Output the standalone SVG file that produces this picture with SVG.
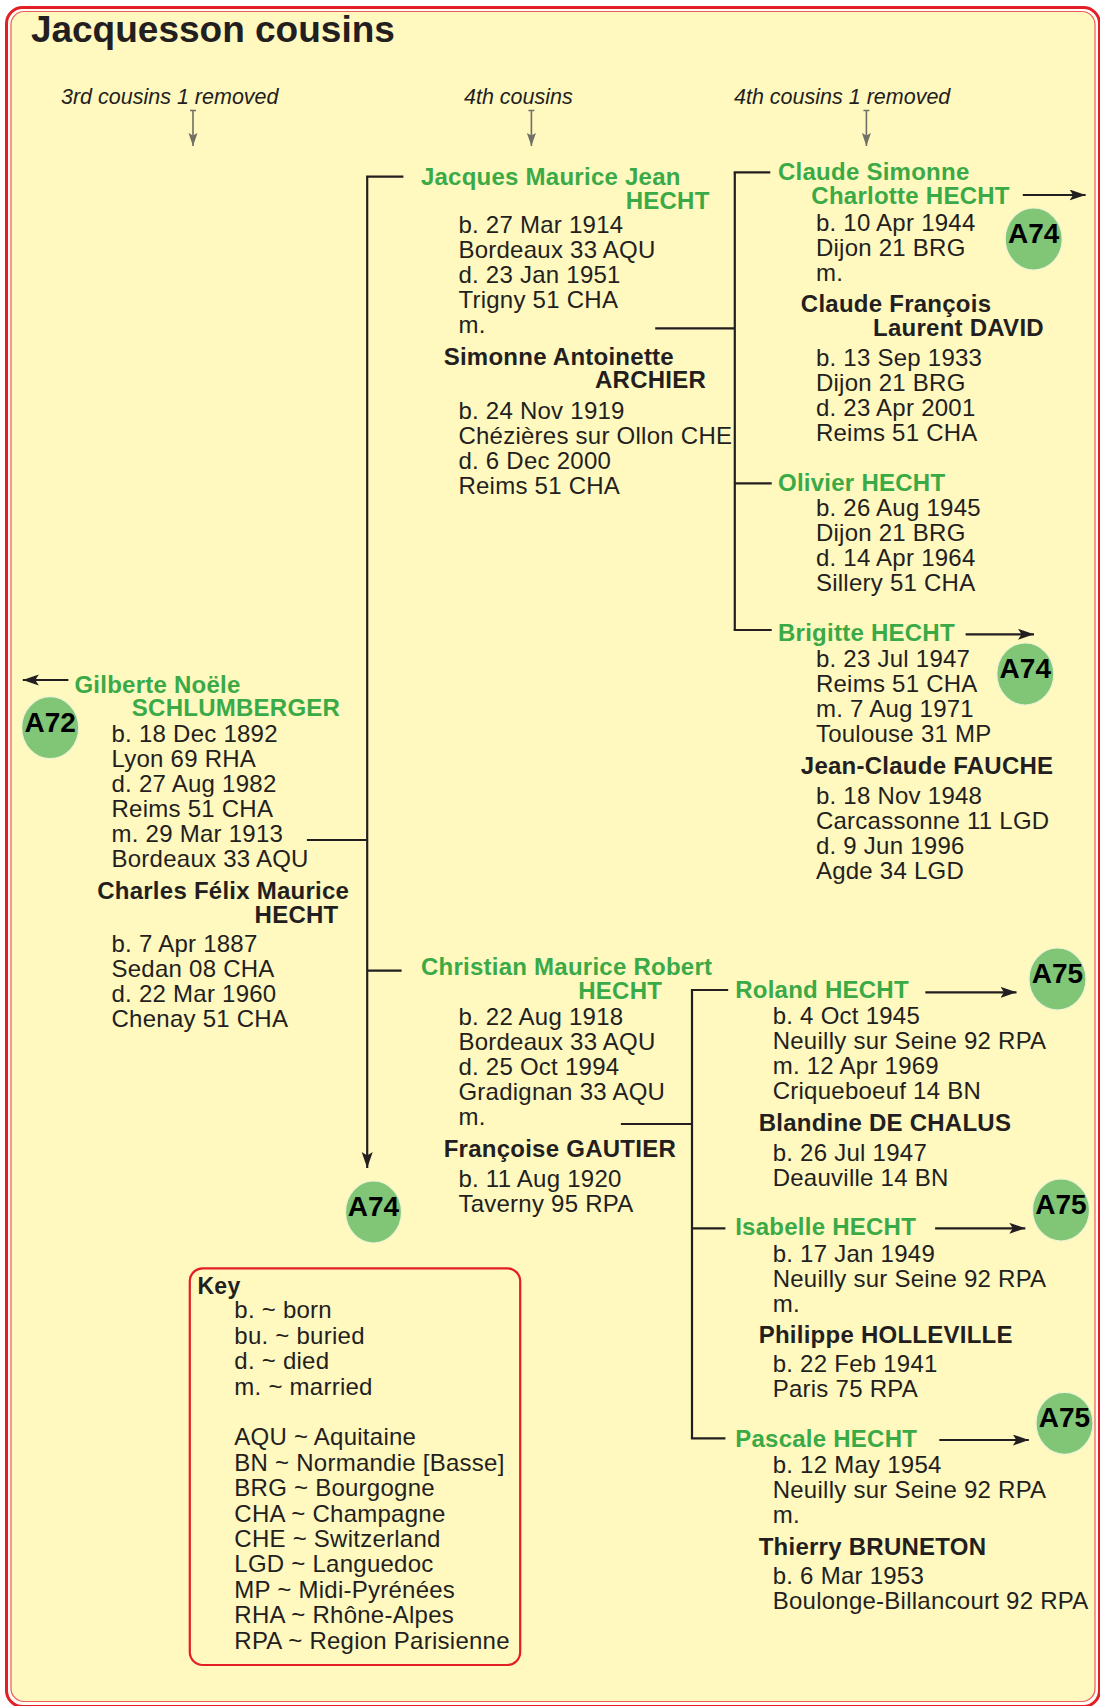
<svg xmlns="http://www.w3.org/2000/svg" width="1100" height="1706" viewBox="0 0 1100 1706">
<defs>
<style>
text{font-family:"Liberation Sans",Arial,Helvetica,sans-serif;font-size:24px;fill:#231f20;letter-spacing:0.25px}
.g{font-weight:bold;fill:#3aaa47}
.s{font-weight:bold}
.e{text-anchor:end}
.h{font-style:italic;font-size:21.5px;letter-spacing:0}
.c{font-weight:bold;font-size:28px;fill:#000;text-anchor:middle;letter-spacing:0}
.ln{stroke:#231f20;stroke-width:2.2;fill:none}
.hl{stroke:#707066;stroke-width:1.6;fill:none}
.badge{fill:#80c676;stroke:#eef3d2;stroke-width:1.2}
</style>
<marker id="ah" markerUnits="userSpaceOnUse" markerWidth="18" markerHeight="12" refX="16" refY="5.5" orient="auto">
<path d="M0,0 L16,5.5 L0,11 L3.5,5.5 Z" fill="#231f20"/>
</marker>
<marker id="gh" markerUnits="userSpaceOnUse" markerWidth="14" markerHeight="10" refX="13" refY="4.5" orient="auto">
<path d="M0,0 L13,4.5 L0,9 L2.5,4.5 Z" fill="#707066"/>
</marker>
</defs>

<g id="frame">
<rect x="6.5" y="7.5" width="1093" height="1699" rx="16" fill="#fffdf4" stroke="#e31e26" stroke-width="3"/>
<rect x="11" y="11.5" width="1084" height="1690" rx="13" fill="#fff8bf" stroke="#ec5a5e" stroke-width="1.2"/>
</g>

<g id="title">
<text x="30.9" y="41.7" class="s" style="font-size:37px;letter-spacing:0">Jacquesson cousins</text>
</g>

<g id="headers">
<text x="61" y="104" class="h">3rd cousins 1 removed</text>
<text x="464" y="104" class="h">4th cousins</text>
<text x="734" y="104" class="h">4th cousins 1 removed</text>
<path class="hl" d="M190 110.5 H196 M193 110.5 V146" marker-end="url(#gh)"/>
<path class="hl" d="M528.4 110.5 H534.4 M531.4 110.5 V146" marker-end="url(#gh)"/>
<path class="hl" d="M863.4 110.5 H869.4 M866.4 110.5 V146" marker-end="url(#gh)"/>
</g>

<g id="connectors">
<line class="ln" x1="367.2" y1="176.7" x2="367.2" y2="1168" marker-end="url(#ah)"/>
<line class="ln" x1="366.1" y1="176.7" x2="403.4" y2="176.7"/>
<line class="ln" x1="367.2" y1="970.7" x2="401.6" y2="970.7"/>
<line class="ln" x1="306.9" y1="840" x2="367.2" y2="840"/>
<line class="ln" x1="734.8" y1="172.3" x2="734.8" y2="630"/>
<line class="ln" x1="733.7" y1="172.3" x2="770.3" y2="172.3"/>
<line class="ln" x1="734.8" y1="483.3" x2="771.7" y2="483.3"/>
<line class="ln" x1="733.7" y1="630" x2="771.7" y2="630"/>
<line class="ln" x1="655.2" y1="328.3" x2="734.8" y2="328.3"/>
<line class="ln" x1="692" y1="990" x2="692" y2="1438.3"/>
<line class="ln" x1="690.9" y1="990" x2="728.2" y2="990"/>
<line class="ln" x1="692" y1="1228.3" x2="725.4" y2="1228.3"/>
<line class="ln" x1="690.9" y1="1438.3" x2="725.4" y2="1438.3"/>
<line class="ln" x1="620.9" y1="1124" x2="692" y2="1124"/>
<line class="ln" x1="68.4" y1="680" x2="22.8" y2="680" marker-end="url(#ah)"/>
<line class="ln" x1="1022.8" y1="195" x2="1085.6" y2="195" marker-end="url(#ah)"/>
<line class="ln" x1="965.6" y1="634.3" x2="1034" y2="634.3" marker-end="url(#ah)"/>
<line class="ln" x1="925.3" y1="992.3" x2="1016.5" y2="992.3" marker-end="url(#ah)"/>
<line class="ln" x1="935.1" y1="1228.3" x2="1025.3" y2="1228.3" marker-end="url(#ah)"/>
<line class="ln" x1="939.3" y1="1440" x2="1028.8" y2="1440" marker-end="url(#ah)"/>
</g>

<g id="gilberte">
<text x="74.4" y="692.7" class="g">Gilberte Noële</text>
<text x="340.2" y="716" class="g e">SCHLUMBERGER</text>
<text x="111.5" y="741.7">b. 18 Dec 1892</text>
<text x="111.5" y="766.7">Lyon 69 RHA</text>
<text x="111.5" y="791.7">d. 27 Aug 1982</text>
<text x="111.5" y="816.7">Reims 51 CHA</text>
<text x="111.5" y="841.7">m. 29 Mar 1913</text>
<text x="111.5" y="866.7">Bordeaux 33 AQU</text>
<text x="97.2" y="899" class="s">Charles Félix Maurice</text>
<text x="338.5" y="923.3" class="s e">HECHT</text>
<text x="111.5" y="951.7">b. 7 Apr 1887</text>
<text x="111.5" y="976.7">Sedan 08 CHA</text>
<text x="111.5" y="1001.7">d. 22 Mar 1960</text>
<text x="111.5" y="1026.7">Chenay 51 CHA</text>
</g>

<g id="badge-a72">
<ellipse class="badge" cx="50.2" cy="727.7" rx="28.5" ry="31"/>
<text class="c" x="50.2" y="731.7">A72</text>
</g>

<g id="jacques">
<text x="420.9" y="185" class="g">Jacques Maurice Jean</text>
<text x="709.6" y="209" class="g e">HECHT</text>
<text x="458.4" y="233.3">b. 27 Mar 1914</text>
<text x="458.4" y="258.3">Bordeaux 33 AQU</text>
<text x="458.4" y="283.3">d. 23 Jan 1951</text>
<text x="458.4" y="308.3">Trigny 51 CHA</text>
<text x="458.4" y="333.3">m.</text>
<text x="443.7" y="365" class="s">Simonne Antoinette</text>
<text x="706.1" y="388.3" class="s e">ARCHIER</text>
<text x="458.4" y="419.3">b. 24 Nov 1919</text>
<text x="458.4" y="444.3">Chézières sur Ollon CHE</text>
<text x="458.4" y="469.3">d. 6 Dec 2000</text>
<text x="458.4" y="494.3">Reims 51 CHA</text>
</g>

<g id="christian">
<text x="420.9" y="975" class="g">Christian Maurice Robert</text>
<text x="662.2" y="999" class="g e">HECHT</text>
<text x="458.4" y="1025">b. 22 Aug 1918</text>
<text x="458.4" y="1050">Bordeaux 33 AQU</text>
<text x="458.4" y="1075">d. 25 Oct 1994</text>
<text x="458.4" y="1100">Gradignan 33 AQU</text>
<text x="458.4" y="1125">m.</text>
<text x="443.7" y="1157.3" class="s">Françoise GAUTIER</text>
<text x="458.4" y="1187">b. 11 Aug 1920</text>
<text x="458.4" y="1212">Taverny 95 RPA</text>
</g>

<g id="badge-a74-main">
<ellipse class="badge" cx="373.5" cy="1212" rx="28" ry="31"/>
<text class="c" x="373.5" y="1216">A74</text>
</g>

<g id="claude">
<text x="778" y="179.5" class="g">Claude Simonne</text>
<text x="811.3" y="204" class="g">Charlotte HECHT</text>
<text x="815.9" y="230.7">b. 10 Apr 1944</text>
<text x="815.9" y="255.7">Dijon 21 BRG</text>
<text x="815.9" y="280.7">m.</text>
<text x="800.8" y="312.3" class="s">Claude François</text>
<text x="1043.9" y="335.7" class="s e">Laurent DAVID</text>
<text x="815.9" y="365.7">b. 13 Sep 1933</text>
<text x="815.9" y="390.7">Dijon 21 BRG</text>
<text x="815.9" y="415.7">d. 23 Apr 2001</text>
<text x="815.9" y="440.7">Reims 51 CHA</text>
</g>

<g id="badge-a74-claude">
<ellipse class="badge" cx="1033.7" cy="239" rx="28.5" ry="31"/>
<text class="c" x="1033.7" y="243.3">A74</text>
</g>

<g id="olivier">
<text x="778" y="490.7" class="g">Olivier HECHT</text>
<text x="815.9" y="516">b. 26 Aug 1945</text>
<text x="815.9" y="541">Dijon 21 BRG</text>
<text x="815.9" y="566">d. 14 Apr 1964</text>
<text x="815.9" y="591">Sillery 51 CHA</text>
</g>

<g id="brigitte">
<text x="778" y="640.7" class="g">Brigitte HECHT</text>
<text x="815.9" y="667.3">b. 23 Jul 1947</text>
<text x="815.9" y="692.3">Reims 51 CHA</text>
<text x="815.9" y="717.3">m. 7 Aug 1971</text>
<text x="815.9" y="742.3">Toulouse 31 MP</text>
<text x="800.8" y="774" class="s">Jean-Claude FAUCHE</text>
<text x="815.9" y="804.3">b. 18 Nov 1948</text>
<text x="815.9" y="829.3">Carcassonne 11 LGD</text>
<text x="815.9" y="854.3">d. 9 Jun 1996</text>
<text x="815.9" y="879.3">Agde 34 LGD</text>
</g>

<g id="badge-a74-brigitte">
<ellipse class="badge" cx="1025.3" cy="674" rx="28.5" ry="31"/>
<text class="c" x="1025.3" y="678">A74</text>
</g>

<g id="roland">
<text x="735.2" y="998.3" class="g">Roland HECHT</text>
<text x="772.7" y="1024.3">b. 4 Oct 1945</text>
<text x="772.7" y="1049.3">Neuilly sur Seine 92 RPA</text>
<text x="772.7" y="1074.3">m. 12 Apr 1969</text>
<text x="772.7" y="1099.3">Criqueboeuf 14 BN</text>
<text x="758.7" y="1131" class="s">Blandine DE CHALUS</text>
<text x="772.7" y="1161">b. 26 Jul 1947</text>
<text x="772.7" y="1186">Deauville 14 BN</text>
</g>

<g id="badge-a75-roland">
<ellipse class="badge" cx="1057.5" cy="979" rx="28.5" ry="31"/>
<text class="c" x="1057.5" y="983">A75</text>
</g>

<g id="isabelle">
<text x="735.2" y="1235" class="g">Isabelle HECHT</text>
<text x="772.7" y="1261.7">b. 17 Jan 1949</text>
<text x="772.7" y="1286.7">Neuilly sur Seine 92 RPA</text>
<text x="772.7" y="1311.7">m.</text>
<text x="758.7" y="1343.3" class="s">Philippe HOLLEVILLE</text>
<text x="772.7" y="1372.3">b. 22 Feb 1941</text>
<text x="772.7" y="1397.3">Paris 75 RPA</text>
</g>

<g id="badge-a75-isabelle">
<ellipse class="badge" cx="1061" cy="1210" rx="28.5" ry="31"/>
<text class="c" x="1061" y="1214">A75</text>
</g>

<g id="pascale">
<text x="735.2" y="1447.3" class="g">Pascale HECHT</text>
<text x="772.7" y="1473.3">b. 12 May 1954</text>
<text x="772.7" y="1498.3">Neuilly sur Seine 92 RPA</text>
<text x="772.7" y="1523.3">m.</text>
<text x="758.7" y="1555" class="s">Thierry BRUNETON</text>
<text x="772.7" y="1584">b. 6 Mar 1953</text>
<text x="772.7" y="1609">Boulonge-Billancourt 92 RPA</text>
</g>

<g id="badge-a75-pascale">
<ellipse class="badge" cx="1064.5" cy="1423.3" rx="28.5" ry="31"/>
<text class="c" x="1064.5" y="1427.3">A75</text>
</g>

<g id="key">
<rect x="189.8" y="1268.3" width="330.4" height="396.7" rx="13" fill="none" stroke="#e31e26" stroke-width="2.2"/>
<text x="197.5" y="1294" class="s" style="font-size:23px">Key</text>
<text x="234.3" y="1318.3">b. ~ born</text>
<text x="234.3" y="1343.7">bu. ~ buried</text>
<text x="234.3" y="1369.1">d. ~ died</text>
<text x="234.3" y="1394.5">m. ~ married</text>
<text x="234.3" y="1445.3">AQU ~ Aquitaine</text>
<text x="234.3" y="1470.7">BN ~ Normandie [Basse]</text>
<text x="234.3" y="1496.1">BRG ~ Bourgogne</text>
<text x="234.3" y="1521.5">CHA ~ Champagne</text>
<text x="234.3" y="1546.9">CHE ~ Switzerland</text>
<text x="234.3" y="1572.3">LGD ~ Languedoc</text>
<text x="234.3" y="1597.7">MP ~ Midi-Pyrénées</text>
<text x="234.3" y="1623.1">RHA ~ Rhône-Alpes</text>
<text x="234.3" y="1648.5">RPA ~ Region Parisienne</text>
</g>
</svg>
